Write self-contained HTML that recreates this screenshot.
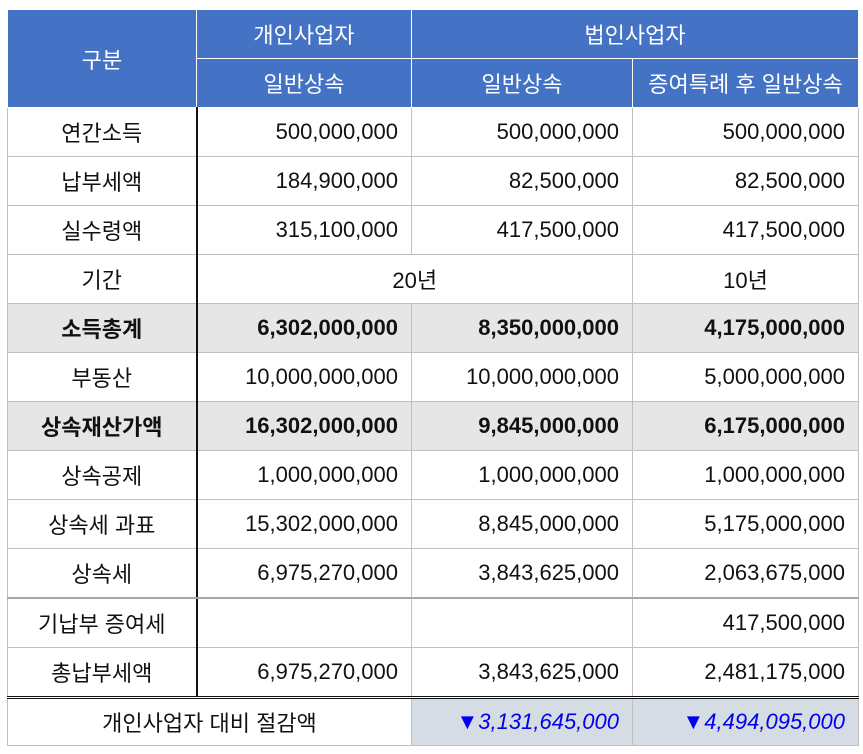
<!DOCTYPE html>
<html><head><meta charset="utf-8"><style>
html,body{margin:0;padding:0;background:#fff;width:863px;height:754px;overflow:hidden}
table{position:absolute;left:7px;top:9px;border-collapse:collapse;table-layout:fixed;font-family:"Liberation Sans","Noto Sans CJK KR",sans-serif;font-size:22px;color:#111}
td,th{height:48px;padding:0 13px 0 6px;border:1px solid #bfbfbf;white-space:nowrap;overflow:hidden}
th{background:#4472c4;color:#fff;font-weight:normal;border:1px solid #fff;text-align:center;padding:0}
td{text-align:right}
td.l{text-align:center;padding:0;border-right:2px solid #111}
td.c{text-align:center;padding:0}
tr.dot td{border-bottom:1px dotted #888}
tr.g td{background:#e7e6e6;font-weight:bold}
tr.thick td{border-bottom:2px solid #a6a6a6}
tr.last td{border-top:3px double #111;height:46px}
td.b{background:#d6dce4;color:#0000ee;font-style:italic}
</style></head><body>
<table>
<colgroup><col style="width:189px"><col style="width:215px"><col style="width:221px"><col style="width:226px"></colgroup>
<tr><th rowspan="2">구분</th><th>개인사업자</th><th colspan="2">법인사업자</th></tr>
<tr><th>일반상속</th><th>일반상속</th><th>증여특례 후 일반상속</th></tr>
<tr class="dot"><td class="l">연간소득</td><td>500,000,000</td><td>500,000,000</td><td>500,000,000</td></tr>
<tr class="dot"><td class="l">납부세액</td><td>184,900,000</td><td>82,500,000</td><td>82,500,000</td></tr>
<tr><td class="l">실수령액</td><td>315,100,000</td><td>417,500,000</td><td>417,500,000</td></tr>
<tr><td class="l">기간</td><td colspan="2" class="c">20년</td><td class="c">10년</td></tr>
<tr class="g"><td class="l">소득총계</td><td>6,302,000,000</td><td>8,350,000,000</td><td>4,175,000,000</td></tr>
<tr><td class="l">부동산</td><td>10,000,000,000</td><td>10,000,000,000</td><td>5,000,000,000</td></tr>
<tr class="g"><td class="l">상속재산가액</td><td>16,302,000,000</td><td>9,845,000,000</td><td>6,175,000,000</td></tr>
<tr><td class="l">상속공제</td><td>1,000,000,000</td><td>1,000,000,000</td><td>1,000,000,000</td></tr>
<tr><td class="l">상속세 과표</td><td>15,302,000,000</td><td>8,845,000,000</td><td>5,175,000,000</td></tr>
<tr class="thick"><td class="l">상속세</td><td>6,975,270,000</td><td>3,843,625,000</td><td>2,063,675,000</td></tr>
<tr><td class="l">기납부 증여세</td><td></td><td></td><td>417,500,000</td></tr>
<tr><td class="l">총납부세액</td><td>6,975,270,000</td><td>3,843,625,000</td><td>2,481,175,000</td></tr>
<tr class="last"><td colspan="2" class="c">개인사업자 대비 절감액</td><td class="b">▼3,131,645,000</td><td class="b">▼4,494,095,000</td></tr>
</table>
</body></html>
